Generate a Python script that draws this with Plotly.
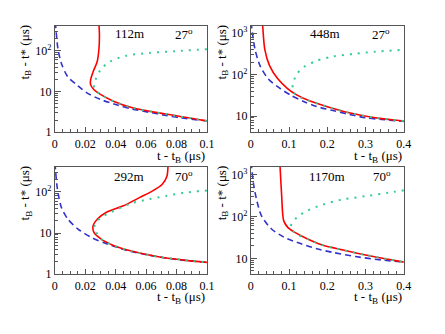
import plotly.graph_objects as go

# ---------------- data ----------------
labels_dist = ["112m", "448m", "292m", "1170m"]
labels_angle = ["27<sup>o</sup>", "27<sup>o</sup>", "70<sup>o</sup>", "70<sup>o</sup>"]

# panel 1 (112m, 27 deg)
dash1_x = [0.0003, 0.0006, 0.002, 0.0043, 0.0085, 0.015, 0.021, 0.030, 0.041, 0.051, 0.062, 0.073, 0.083, 0.1]
dash1_y = [500, 380, 114, 49, 23, 14, 9.3, 6.4, 4.7, 3.7, 3.1, 2.6, 2.25, 1.9]
red1_x = [0.0289, 0.0293, 0.0290, 0.0278, 0.0252, 0.0235, 0.0235, 0.0256, 0.030, 0.0385, 0.051, 0.073, 0.1]
red1_y = [500, 250, 114, 54, 31, 19.5, 14.8, 11.2, 8.5, 5.8, 4.0, 2.8, 1.9]
green1_x = [0.1, 0.079, 0.062, 0.047, 0.036, 0.030, 0.0267, 0.0256, 0.0262, 0.030, 0.0385, 0.051, 0.073, 0.1]
green1_y = [110, 98, 89, 76, 54, 34, 19.5, 14.5, 11.5, 8.5, 5.8, 4.0, 2.8, 1.9]

# panel 2 (448m, 27 deg)
dash2_x = [0.001, 0.0025, 0.011, 0.024, 0.045, 0.07, 0.104, 0.138, 0.172, 0.215, 0.257, 0.3, 0.342, 0.4]
dash2_y = [1800, 1330, 407, 165, 80, 51, 32, 22.5, 17, 13.6, 11, 9.1, 8.3, 7.4]
red2_x = [0.030, 0.031, 0.0365, 0.049, 0.07, 0.096, 0.121, 0.155, 0.198, 0.257, 0.325, 0.4]
red2_y = [1800, 1500, 407, 165, 80, 46, 32, 23, 17, 12, 9.1, 7.6]
green2_x = [0.389, 0.325, 0.274, 0.215, 0.172, 0.138, 0.121, 0.113, 0.109, 0.115, 0.13, 0.155, 0.198, 0.257, 0.325, 0.4]
green2_y = [390, 357, 318, 273, 215, 151, 105, 73, 45, 35, 28, 23, 17, 12, 9.1, 7.6]

# panel 3 (292m, 70 deg)
dash3_x = [0.0002, 0.0004, 0.0017, 0.0043, 0.0085, 0.015, 0.0235, 0.034, 0.047, 0.062, 0.079, 0.1]
dash3_y = [500, 350, 116, 42, 22, 12.7, 8, 5.5, 3.8, 2.9, 2.3, 1.94]
red3_x = [0.0746, 0.0744, 0.0737, 0.0705, 0.064, 0.0556, 0.045, 0.034, 0.028, 0.0252, 0.0256, 0.030, 0.0385, 0.051, 0.068, 0.085, 0.1]
red3_y = [500, 420, 241, 152, 105, 73, 46, 32, 22, 15.3, 10.5, 7.3, 5.0, 3.6, 2.65, 2.2, 1.94]
green3_x = [0.1, 0.085, 0.073, 0.062, 0.051, 0.041, 0.032, 0.028, 0.026, 0.027, 0.030, 0.0385, 0.051, 0.068, 0.085, 0.1]
green3_y = [109, 96, 80, 67, 54, 38, 26, 20, 14, 10.8, 7.4, 5.0, 3.6, 2.65, 2.2, 1.94]

# panel 4 (1170m, 70 deg)
dash4_x = [0.001, 0.0025, 0.0068, 0.015, 0.028, 0.0535, 0.087, 0.13, 0.172, 0.215, 0.274, 0.342, 0.4]
dash4_y = [2000, 1440, 630, 258, 104, 51, 32, 22.5, 17, 13.8, 11, 9.1, 8.1]
red4_x = [0.0762, 0.0764, 0.0807, 0.083, 0.0858, 0.096, 0.113, 0.147, 0.189, 0.24, 0.3, 0.359, 0.4]
red4_y = [2000, 1600, 309, 126, 80, 56, 43, 29.5, 20.5, 15.9, 12, 9.5, 8.1]
green4_x = [0.4, 0.359, 0.3, 0.24, 0.189, 0.147, 0.121, 0.109, 0.104, 0.11, 0.125, 0.147, 0.189, 0.24, 0.3, 0.359, 0.4]
green4_y = [427, 372, 309, 257, 195, 138, 96, 73, 56, 45, 36, 29.5, 20.5, 15.9, 12, 9.5, 8.1]

xt_small = [0, 0.02, 0.04, 0.06, 0.08, 0.1]
xt_small_text = ["0", "0.02", "0.04", "0.06", "0.08", "0.1"]
xt_big = [0, 0.1, 0.2, 0.3, 0.4]
xt_big_text = ["0", "0.1", "0.2", "0.3", "0.4"]
yt_low = [1, 10, 100]
yt_low_text = ["1", "10", "10<sup>2</sup>"]
yt_high = [10, 100, 1000]
yt_high_text = ["10", "10<sup>2</sup>", "10<sup>3</sup>"]

x_title = "t - t<sub>B</sub> (\u03bcs)"
y_title = "t<sub>B</sub> - t* (\u03bcs)"

# ---------------- styles ----------------
FONT = "Liberation Serif"
BLUE = "#3333cc"
RED = "#ff0000"
GREEN = "#33cc99"
AX = "#555555"

# page has an 8px body margin; figure sized to fit the window
OFF = 8
W, H = 437, 326


def xp(p):
    return (p - OFF) / W


def yp(p):
    return 1 - (p - OFF) / H


xdom = [[xp(53), xp(209)], [xp(254), xp(411)], [xp(53), xp(209)], [xp(254), xp(411)]]
ydom = [[yp(135), yp(26)], [yp(135), yp(26)], [yp(280), yp(170)], [yp(280), yp(170)]]
xtitle_y = [yp(159.5), yp(159.5), yp(304), yp(304)]
ytitle_x = [xp(23), xp(225), xp(23), xp(225)]
xranges = [[0, 0.1], [0, 0.4], [0, 0.1], [0, 0.4]]
yranges = [[0, 2.62], [0.61, 3.18], [0, 2.62], [0.62, 3.2]]
lab_pos = [(0.49, 0.926, 0.846), (0.484, 0.926, 0.85), (0.49, 0.91, 0.846), (0.5, 0.91, 0.855)]

panels = [
    (dash1_x, dash1_y, red1_x, red1_y, green1_x, green1_y),
    (dash2_x, dash2_y, red2_x, red2_y, green2_x, green2_y),
    (dash3_x, dash3_y, red3_x, red3_y, green3_x, green3_y),
    (dash4_x, dash4_y, red4_x, red4_y, green4_x, green4_y),
]

fig = go.Figure()
for i, (dx, dy, rx, ry, gx, gy) in enumerate(panels):
    xa = "x" if i == 0 else f"x{i+1}"
    ya = "y" if i == 0 else f"y{i+1}"
    fig.add_trace(go.Scatter(x=dx, y=dy, mode="lines", xaxis=xa, yaxis=ya,
                             line=dict(color=BLUE, width=1.6, dash="6px,4px", shape="spline", smoothing=0.8),
                             showlegend=False, hoverinfo="skip"))
    fig.add_trace(go.Scatter(x=rx, y=ry, mode="lines", xaxis=xa, yaxis=ya,
                             line=dict(color=RED, width=1.6, shape="spline", smoothing=0.8),
                             showlegend=False, hoverinfo="skip"))
    fig.add_trace(go.Scatter(x=gx, y=gy, mode="lines", xaxis=xa, yaxis=ya,
                             line=dict(color=GREEN, width=2, dash="2px,6px", shape="spline", smoothing=0.8),
                             showlegend=False, hoverinfo="skip"))

layout = dict(width=W, height=H, margin=dict(l=0, r=0, t=0, b=0),
              paper_bgcolor="white", plot_bgcolor="white",
              font=dict(family=FONT, size=12, color="black"))

ymin = [2, 3, 4, 5, 6, 7, 8, 9, 20, 30, 40, 50, 60, 70, 80, 90, 200, 300, 400, 500, 600, 700, 800, 900, 2000]
annotations = []
for i in range(4):
    sx = "" if i == 0 else str(i + 1)
    small = i in (0, 2)
    xv = xt_small if small else xt_big
    xtxt = xt_small_text if small else xt_big_text
    yv = yt_low if small else yt_high
    ytxt = yt_low_text if small else yt_high_text
    layout["xaxis" + sx] = dict(
        domain=xdom[i], range=xranges[i], anchor="y" + sx,
        showline=True, linecolor=AX, linewidth=1, mirror=True,
        showgrid=False, zeroline=False,
        ticks="inside", ticklen=5, tickcolor=AX, tickwidth=1,
        tickmode="array", tickvals=xv, ticktext=xtxt,
        tickfont=dict(family=FONT, size=12),
        minor=dict(ticks="inside", ticklen=3, tickcolor=AX, dtick=0.005 if small else 0.02, tick0=0, showgrid=False),
    )
    layout["yaxis" + sx] = dict(
        domain=ydom[i], range=yranges[i], anchor="x" + sx, type="log",
        showline=True, linecolor=AX, linewidth=1, mirror=True,
        showgrid=False, zeroline=False,
        ticks="inside", ticklen=6, tickcolor=AX, tickwidth=1,
        tickmode="array", tickvals=yv, ticktext=ytxt,
        tickfont=dict(family=FONT, size=12),
        minor=dict(ticks="inside", ticklen=3, tickcolor=AX, tickmode="array", tickvals=ymin, showgrid=False),
    )
    lx, ly, ax_ = lab_pos[i]
    annotations.append(dict(xref=f"x{sx} domain", yref=f"y{sx} domain", x=lx, y=ly,
                            text=labels_dist[i], showarrow=False, xanchor="center", yanchor="middle",
                            font=dict(family=FONT, size=13)))
    annotations.append(dict(xref=f"x{sx} domain", yref=f"y{sx} domain", x=ax_, y=ly,
                            text=labels_angle[i], showarrow=False, xanchor="center", yanchor="middle",
                            font=dict(family=FONT, size=13)))
    annotations.append(dict(xref=f"x{sx} domain", yref="paper", x=1.0, y=xtitle_y[i],
                            text=x_title, showarrow=False, xanchor="right", yanchor="middle",
                            font=dict(family=FONT, size=13)))
    annotations.append(dict(xref="paper", yref=f"y{sx} domain", x=ytitle_x[i], y=1.03,
                            text=y_title, showarrow=False, xanchor="center", yanchor="top", textangle=-90,
                            font=dict(family=FONT, size=13)))

layout["annotations"] = annotations
fig.update_layout(**layout)
fig.write_html("out.html")
